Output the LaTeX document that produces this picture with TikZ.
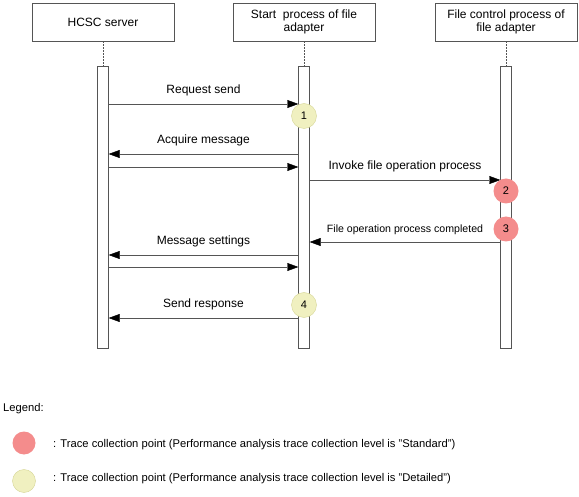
\documentclass[tikz,border=0pt]{standalone}
\usepackage{fontspec}
\setmainfont{Liberation Sans}
\usetikzlibrary{arrows.meta,positioning}
\definecolor{linegray}{RGB}{85,85,85}
\definecolor{stdred}{RGB}{244,140,140}
\definecolor{detyellow}{RGB}{240,240,192}
\definecolor{detedge}{RGB}{214,214,150}
\tikzset{
  lane/.style={draw=linegray, minimum width=142pt, minimum height=38pt, align=center,
    inner sep=1pt, font=\fontsize{12}{13.5}\selectfont},
  bar/.style={draw=linegray, fill=white, minimum width=11pt, minimum height=282pt, inner sep=0pt},
  msg/.style={draw=linegray, -{Triangle[length=11pt,width=8pt,color=black]}},
  lbl/.style={font=\fontsize{12}{13.5}\selectfont, above=4pt},
  std/.style={circle, fill=stdred, minimum size=25pt, inner sep=0pt, font=\fontsize{11}{12}\selectfont},
  det/.style={circle, fill=detyellow, draw=detedge, minimum size=25pt, inner sep=0pt, font=\fontsize{11}{12}\selectfont},
  keytext/.style={anchor=west, inner sep=0pt, font=\fontsize{11.2}{13}\selectfont},
}
\begin{document}
\begin{tikzpicture}[x=1pt, y=-1pt]
    \useasboundingbox (0,0) rectangle (579,497);

    \node (hcsc) [lane] at (103,22) {HCSC server};
    \node (start) [lane] at (304,22) {Start\ \ process of file\\adapter};
    \node (filectl) [lane] at (506,22) {File control process of\\file adapter};

    \node (hcscbar) [bar] at (103,207) {};
    \node (startbar) [bar] at (304,207) {};
    \node (filebar) [bar] at (506,207) {};

    \draw[linegray, dash pattern=on 2pt off 1pt] (hcsc) -- (hcscbar);
    \draw[linegray, dash pattern=on 2pt off 1pt] (start) -- (startbar);
    \draw[linegray, dash pattern=on 2pt off 1pt] (filectl) -- (filebar);

    \draw[msg] (hcscbar.east |- 0,104) -- node[lbl] {Request send} (startbar.west |- 0,104);
    \draw[msg] (startbar.west |- 0,154) -- node[lbl] {Acquire message} (hcscbar.east |- 0,154);
    \draw[msg] (hcscbar.east |- 0,167) -- (startbar.west |- 0,167);
    \draw[msg] (startbar.east |- 0,180) -- node[lbl] {Invoke file operation process} (filebar.west |- 0,180);
    \draw[msg] (filebar.west |- 0,242) -- node[lbl, font=\fontsize{10.6}{12}\selectfont] {File operation process completed} (startbar.east |- 0,242);
    \draw[msg] (startbar.west |- 0,255) -- node[lbl] {Message settings} (hcscbar.east |- 0,255);
    \draw[msg] (hcscbar.east |- 0,267) -- (startbar.west |- 0,267);
    \draw[msg] (startbar.west |- 0,318) -- node[lbl] {Send response} (hcscbar.east |- 0,318);

    \node (1) [det] at (304,116) {1};
    \node (2) [std] at (506,191) {2};
    \node (3) [std] at (506,229) {3};
    \node (4) [det] at (304,305) {4};

    % legend
    \node (legend) [keytext] at (3,409) {Legend:};
    \node (stdkey) [std, minimum size=23pt] at (24,443) {};
    \node (detkey) [det, minimum size=23pt] at (24,481) {};
    \node (stdtext) [keytext] at (53,445)
        {: Trace collection point (Performance analysis trace collection level is "Standard")};
    \node (dettext) [keytext] at (53,479)
        {: Trace collection point (Performance analysis trace collection level is "Detailed")};
\end{tikzpicture}
\end{document}
